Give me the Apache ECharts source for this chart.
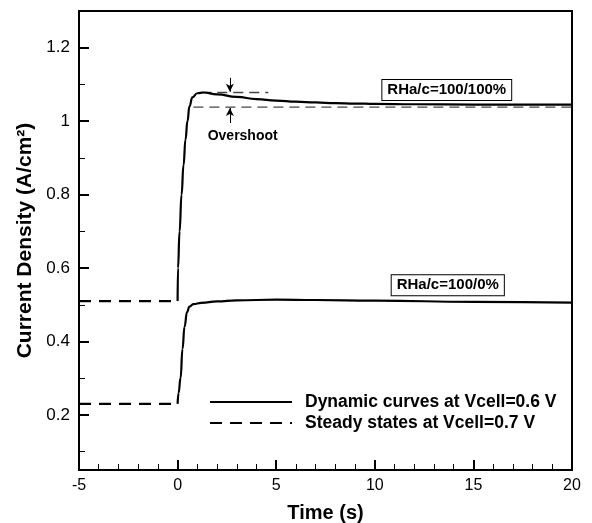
<!DOCTYPE html>
<html>
<head>
<meta charset="UTF-8">
<title></title>
<script src="https://cdn.jsdelivr.net/npm/echarts@6/dist/echarts.min.js"></script>
<style>
body{margin:0;background:#fff;}
#main{width:592px;height:523px;}
</style>
</head>
<body>
<div id="main"></div>
<script>
// 数据
var tUp = [0, 0.02, 0.1, 0.2, 0.3, 0.4, 0.5, 0.6, 0.75, 1.0, 1.3, 2, 3, 4, 5, 6, 7, 8, 9, 10, 12, 15, 20];
var jUp = [0.51, 0.6, 0.7, 0.8, 0.88, 0.95, 1.0, 1.04, 1.065, 1.076, 1.078, 1.073, 1.066, 1.06, 1.056, 1.053, 1.051, 1.049, 1.048, 1.047, 1.046, 1.045, 1.045];
var tLow = [0, 0.05, 0.15, 0.25, 0.35, 0.48, 0.6, 0.8, 1.2, 2, 3, 5, 7, 10, 15, 20];
var jLow = [0.23, 0.26, 0.3, 0.38, 0.44, 0.48, 0.495, 0.502, 0.505, 0.509, 0.512, 0.514, 0.513, 0.511, 0.508, 0.506];
var tPre = [-5, 0];
var jPreUp = [0.51, 0.51];
var jPreLow = [0.23, 0.23];
var tSteady = [0.8, 20];
var jSteady = [1.038, 1.038];
var tPeak = [1.2, 4.6];
var jPeak = [1.078, 1.078];
var yLabels = [0.2, 0.4, 0.6, 0.8, 1, 1.2];
var yMinor = [0.1, 0.3, 0.5, 0.7, 0.9, 1.1];

var DYN = 'Dynamic curves at Vcell=0.6 V';
var STD = 'Steady states at Vcell=0.7 V';

function zip(a, b) {
	var r = [];
	for (var i = 0; i < a.length; i++) r.push([a[i], b[i]]);
	return r;
}

var font = 'Liberation Sans, Arial, Helvetica, sans-serif';
var myChart = echarts.init(document.getElementById('main'));
var option = {
	animation: false,
	backgroundColor: '#fff',
	grid: {left: 79, right: 20, top: 11, bottom: 53, show: true, borderColor: '#000', borderWidth: 2, outerBoundsMode: 'none'},
	legend: {
		data: [DYN, STD],
		orient: 'vertical',
		left: 209, top: 393,
		itemWidth: 82, itemHeight: 14, itemGap: 3,
		padding: 0,
		itemStyle: {opacity: 0},
		textStyle: {fontFamily: font, fontSize: 17.5, fontWeight: 'bold', color: '#000', padding: [0, 0, 0, 8]}
	},
	xAxis: {
		type: 'value', min: -5, max: 20, interval: 5,
		name: 'Time (s)', nameLocation: 'middle', nameGap: 33,
		nameTextStyle: {fontFamily: font, fontSize: 20, fontWeight: 'bold', color: '#000'},
		axisLine: {onZero: false, lineStyle: {color: '#000', width: 2}},
		axisTick: {inside: true, length: 10, lineStyle: {color: '#000', width: 2}},
		minorTick: {show: true, splitNumber: 5, length: 6, lineStyle: {color: '#000', width: 1}},
		axisLabel: {fontFamily: font, fontSize: 16, color: '#000', margin: 8},
		splitLine: {show: false}
	},
	yAxis: [{
		type: 'value', min: 0.05, max: 1.3,
		name: 'Current Density (A/cm²)', nameLocation: 'middle', nameGap: 36,
		nameTextStyle: {fontFamily: font, fontSize: 21, fontWeight: 'bold', color: '#000'},
		axisLine: {onZero: false, lineStyle: {color: '#000', width: 2}},
		axisTick: {inside: true, length: 10, customValues: yLabels, lineStyle: {color: '#000', width: 2}},
		axisLabel: {fontFamily: font, fontSize: 17, color: '#000', margin: 9, customValues: yLabels},
		splitLine: {show: false}
	}, {
		type: 'value', min: 0.05, max: 1.3, position: 'left',
		axisLine: {show: false, onZero: false},
		axisTick: {inside: true, length: 6, customValues: yMinor, lineStyle: {color: '#000', width: 1}},
		axisLabel: {show: false, customValues: yMinor},
		splitLine: {show: false}
	}],
	series: [
		{name: DYN, type: 'line', data: zip(tUp, jUp), symbol: 'none', smooth: true, smoothMonotone: 'x',
			lineStyle: {color: '#000', width: 2.2}, itemStyle: {color: '#000'}},
		{name: DYN, type: 'line', data: zip(tLow, jLow), symbol: 'none', smooth: true, smoothMonotone: 'x',
			lineStyle: {color: '#000', width: 2.2}, itemStyle: {color: '#000'}},
		{name: STD, type: 'line', data: zip(tPre, jPreUp), symbol: 'none',
			lineStyle: {color: '#000', width: 2.2, type: [12, 8]}, itemStyle: {color: '#000'}},
		{name: STD, type: 'line', data: zip(tPre, jPreLow), symbol: 'none',
			lineStyle: {color: '#000', width: 2.2, type: [12, 8]}, itemStyle: {color: '#000'}},
		{name: 'steady06', type: 'line', data: zip(tSteady, jSteady), symbol: 'none', z: 1,
			lineStyle: {color: '#444', width: 1.3, type: [10, 6]},
			markPoint: {
				symbol: 'rect', symbolSize: 0,
				data: [
					{coord: [13.65, 1.085], label: {formatter: 'RHa/c=100/100%'}},
					{coord: [13.7, 0.553], label: {formatter: 'RHa/c=100/0%'}}
				],
				label: {show: true, position: 'inside', fontFamily: font, fontSize: 15, fontWeight: 'bold', color: '#000',
					backgroundColor: '#fff', borderColor: '#000', borderWidth: 1, padding: [3, 5, 2, 5]}
			}},
		{name: 'peak', type: 'line', data: zip(tPeak, jPeak), symbol: 'none', z: 1,
			lineStyle: {color: '#444', width: 1.3, type: [10, 6]},
			markPoint: {
				symbol: 'rect', symbolSize: 0,
				data: [{coord: [3.3, 0.96]}],
				label: {show: true, position: 'inside', formatter: 'Overshoot', fontFamily: font, fontSize: 14, fontWeight: 'bold', color: '#000'}
			},
			markLine: {
				silent: true,
				symbol: ['none', 'arrow'], symbolSize: [6, 8],
				label: {show: false},
				lineStyle: {color: '#000', width: 1, type: 'solid'},
				data: [
					[{coord: [2.65, 1.118]}, {coord: [2.65, 1.08]}],
					[{coord: [2.65, 0.995]}, {coord: [2.65, 1.036]}]
				]
			}}
	]
};
myChart.setOption(option);
</script>
</body>
</html>
